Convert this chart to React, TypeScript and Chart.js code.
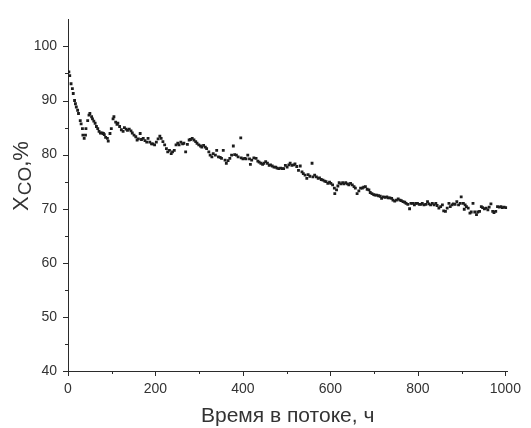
import React, { useEffect, useRef } from 'react';
import { Chart, registerables } from 'chart.js';

Chart.register(...registerables);

// Time on stream, h
const timeH: number[] = [
  2, 4, 7, 10, 12, 15, 17, 19, 22, 24, 28, 30, 33, 34, 37, 40, 41, 45, 48, 50, 54, 56, 59, 62, 65, 68, 71, 74, 78, 81, 83, 86, 90, 92, 96, 99, 103, 105, 109, 112, 114, 118, 122, 126, 129, 133, 136, 140, 144, 147, 151, 155, 158, 161, 165,
  168, 172, 176, 180, 183, 187, 191, 194, 198, 202, 206, 210, 213, 217, 221, 225, 228, 232, 236, 239, 243, 247, 251, 254, 258, 262, 265, 269, 273, 277, 280, 284, 288, 292, 295, 299, 303, 306, 310, 314, 317, 322, 325, 329, 332,
  337, 340, 344, 348, 351, 355, 359, 362, 366, 370, 374, 378, 381, 385, 389, 395, 396, 400, 404, 407, 411, 415, 417, 420, 425, 430, 434, 437, 441, 445, 448, 452, 456, 460, 463, 467, 471, 475, 478, 482, 486, 490, 493, 497, 501,
  505, 508, 512, 516, 519, 523, 527, 531, 535, 538, 542, 546, 549, 553, 558, 560, 564, 568, 572, 575, 579, 583, 587, 590, 594, 598, 601, 605, 609, 610, 614, 617, 620, 624, 628, 631, 635, 639, 642, 646, 650, 654, 657, 661, 665, 669,
  673, 676, 680, 684, 688, 691, 695, 699, 702, 706, 710, 714, 717, 721, 725, 729, 732, 736, 740, 743, 747, 751, 755, 759, 762, 766, 770, 773, 777, 781, 784, 788, 792, 795, 799, 803, 807, 810, 814, 818, 822, 825, 829, 833,
  837, 841, 844, 848, 852, 856, 859, 863, 867, 871, 874, 878, 881, 885, 889, 893, 897, 899, 904, 906, 908, 911, 915, 919, 922, 926, 930, 934, 937, 941, 945, 948, 952, 956, 960, 963, 967, 971, 974, 978, 982, 986, 990, 993, 997, 1001,
];

// CO conversion, %
const xco: number[] = [
  95.3, 94.6, 93.1, 92.2, 91.3, 90.0, 89.4, 88.8, 88.2, 87.6, 86.3, 85.7, 84.8, 83.6, 83.0, 83.6, 84.8, 86.3, 87.3, 87.6, 87.0, 86.6, 86.2, 85.8, 85.2, 84.8, 84.3, 84.0, 84.0, 83.9, 83.7, 83.2, 83.0, 82.5, 83.9, 84.8, 86.6, 87.0, 86.0, 85.6, 85.8, 85.2, 84.6, 84.3, 85.0, 84.7, 84.5, 84.7, 84.4, 84.0, 83.6, 83.3, 82.7, 82.9, 83.9,
  82.8, 83.0, 82.6, 82.3, 83.0, 82.3, 82.0, 82.0, 81.8, 82.3, 82.9, 83.4, 83.0, 82.4, 81.8, 81.1, 80.5, 80.8, 80.2, 80.5, 80.8, 81.8, 82.1, 81.8, 82.3, 82.0, 82.1, 80.5, 81.9, 82.7, 82.8, 83.0, 82.7, 82.4, 82.1, 81.8, 81.6, 81.4, 81.7, 81.4, 81.1, 80.5, 79.9, 79.6, 80.2,
  79.9, 80.8, 79.6, 79.5, 79.3, 80.8, 79.0, 78.4, 78.9, 79.3, 79.9, 81.6, 80.0, 79.9, 79.6, 83.1, 79.4, 79.2, 79.3, 79.2, 79.9, 79.2, 78.2, 79.0, 79.4, 79.3, 78.8, 78.6, 78.4, 78.2, 78.4, 78.7, 78.4, 78.0, 78.1, 77.9, 77.7, 77.7, 77.5, 77.4, 77.5, 77.4, 77.4, 78.0, 77.7,
  78.1, 78.4, 78.0, 78.1, 78.3, 77.8, 77.1, 77.9, 76.8, 76.5, 76.2, 75.6, 76.3, 76.0, 78.4, 75.9, 76.2, 75.9, 75.6, 75.7, 75.4, 75.3, 75.1, 75.0, 74.7, 74.9, 74.7, 74.4, 73.8, 72.8, 73.5, 74.2, 74.8, 74.6, 74.8, 74.6, 74.8, 74.6, 74.4, 74.7, 74.4, 74.1, 73.8, 72.8, 73.3, 73.8,
  73.8, 74.0, 74.1, 73.6, 73.5, 73.0, 72.8, 72.6, 72.5, 72.5, 72.4, 72.3, 71.9, 72.2, 72.1, 72.2, 72.0, 72.0, 71.9, 71.6, 71.4, 71.6, 71.8, 71.6, 71.5, 71.3, 71.2, 71.0, 70.8, 70.0, 71.0, 71.0, 70.7, 71.0, 71.0, 70.8, 70.8, 71.0, 70.7, 70.8, 71.3, 70.9, 70.7, 71.0,
  70.7, 71.0, 70.6, 70.1, 70.4, 70.7, 69.6, 69.5, 70.1, 71.0, 70.4, 70.7, 70.9, 70.8, 71.3, 70.7, 71.0, 72.2, 71.0, 69.9, 70.7, 70.4, 70.1, 69.2, 69.4, 71.0, 69.4, 68.9, 69.4, 69.5, 70.4, 70.2, 70.0, 70.1, 69.8, 70.3, 70.9, 69.5, 69.3, 69.5, 70.4, 70.3, 70.4, 70.2, 70.3, 70.2,
];

const xMajorTicks = [0, 200, 400, 600, 800, 1000];
const xMinorTicks = [100, 300, 500, 700, 900];
const yMajorTicks = [40, 50, 60, 70, 80, 90, 100];
const yMinorTicks = [45, 55, 65, 75, 85, 95];

const xTitle = 'Время в потоке, ч';
const yTitleMain = 'X';
const yTitleSub = 'CO';
const yTitleTail = ',%';

const FONT = '"Liberation Sans", Arial, Helvetica, sans-serif';
const AXIS_COLOR = '#2b2b2b';
const TEXT_COLOR = '#333333';

const decorPlugin = {
  id: 'decor',
  afterDraw(chart: any) {
    const { ctx, chartArea, scales } = chart;
    const x = scales.x;
    const y = scales.y;
    ctx.save();
    ctx.strokeStyle = AXIS_COLOR;
    ctx.lineWidth = 1;
    ctx.beginPath();
    const b = chartArea.bottom;
    const l = chartArea.left;
    xMajorTicks.forEach((v) => {
      const p = Math.round(x.getPixelForValue(v)) + 0.5;
      ctx.moveTo(p, b);
      ctx.lineTo(p, b + 5);
    });
    xMinorTicks.forEach((v) => {
      const p = Math.round(x.getPixelForValue(v)) + 0.5;
      ctx.moveTo(p, b);
      ctx.lineTo(p, b + 3);
    });
    yMajorTicks.forEach((v) => {
      const p = Math.round(y.getPixelForValue(v)) + 0.5;
      ctx.moveTo(l, p);
      ctx.lineTo(l - 5, p);
    });
    yMinorTicks.forEach((v) => {
      const p = Math.round(y.getPixelForValue(v)) + 0.5;
      ctx.moveTo(l, p);
      ctx.lineTo(l - 3, p);
    });
    ctx.stroke();

    // x title
    ctx.fillStyle = TEXT_COLOR;
    ctx.font = `21px ${FONT}`;
    ctx.textAlign = 'center';
    ctx.textBaseline = 'alphabetic';
    ctx.fillText(xTitle, (chartArea.left + chartArea.right) / 2, 422);

    // y title (rotated, with subscript)
    ctx.translate(28, 211);
    ctx.rotate(-Math.PI / 2);
    ctx.textAlign = 'left';
    let cx = 0;
    ctx.font = `22px ${FONT}`;
    ctx.fillText(yTitleMain, cx, 0);
    cx += ctx.measureText(yTitleMain).width + 1;
    ctx.font = `19px ${FONT}`;
    ctx.fillText(yTitleSub, cx, 3);
    cx += ctx.measureText(yTitleSub).width;
    ctx.font = `22px ${FONT}`;
    ctx.fillText(yTitleTail, cx, 0);
    ctx.restore();
  },
};

export default function App() {
  const canvasRef = useRef<HTMLCanvasElement | null>(null);

  useEffect(() => {
    document.body.style.margin = '0';
    const canvas = canvasRef.current;
    if (!canvas) return;
    const n = Math.min(timeH.length, xco.length);
    const points = [];
    for (let i = 0; i < n; i++) points.push({ x: timeH[i], y: xco[i] });

    const chart = new Chart(canvas, {
      type: 'scatter',
      data: {
        datasets: [
          {
            data: points,
            pointStyle: 'rect',
            pointRadius: 2,
            pointHoverRadius: 2,
            borderWidth: 0,
            backgroundColor: '#1c1c1c',
            borderColor: '#1c1c1c',
          },
        ],
      },
      options: {
        animation: false,
        responsive: false,
        devicePixelRatio: 1,
        layout: { padding: { top: 17, right: 14, left: 0, bottom: 0 } },
        plugins: {
          legend: { display: false },
          tooltip: { enabled: false },
          title: { display: false },
        },
        scales: {
          x: {
            type: 'linear',
            min: 0,
            max: 1004.5,
            afterBuildTicks: (s: any) => {
              s.ticks = xMajorTicks.map((v) => ({ value: v }));
            },
            afterFit: (s: any) => {
              s.height = 57;
            },
            grid: { display: false, drawTicks: false },
            border: { display: true, color: AXIS_COLOR, width: 1 },
            ticks: {
              color: TEXT_COLOR,
              font: { family: FONT, size: 14 },
              padding: 10,
              maxRotation: 0,
              autoSkip: false,
              callback: (v: any) => String(v),
            },
          },
          y: {
            type: 'linear',
            min: 40,
            max: 105,
            afterBuildTicks: (s: any) => {
              s.ticks = yMajorTicks.map((v) => ({ value: v }));
            },
            afterFit: (s: any) => {
              s.width = 68;
            },
            grid: { display: false, drawTicks: false },
            border: { display: true, color: AXIS_COLOR, width: 1 },
            ticks: {
              color: TEXT_COLOR,
              font: { family: FONT, size: 14 },
              padding: 11,
              autoSkip: false,
              callback: (v: any) => String(v),
            },
          },
        },
      },
      plugins: [decorPlugin],
    });
    return () => chart.destroy();
  }, []);

  return (
    <div style={{ position: 'absolute', left: 0, top: 0, width: 531, height: 428, background: '#fff' }}>
      <canvas ref={canvasRef} width={531} height={428} style={{ display: 'block', width: 531, height: 428 }} />
    </div>
  );
}
